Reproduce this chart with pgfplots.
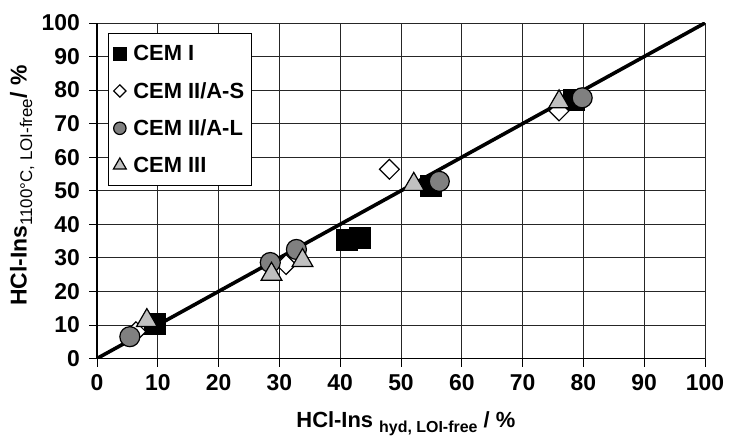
\documentclass[border=0pt]{standalone}
\usepackage{fontspec}
\setmainfont{Liberation Sans}
\usepackage{pgfplots}
\pgfplotsset{compat=1.18}
\definecolor{cgray}{HTML}{808080}
\definecolor{lgray}{HTML}{C0C0C0}
\begin{document}
\begin{tikzpicture}
\begin{axis}[
  name=a,
  scale only axis, width=608bp, height=335.5bp,
  xmin=0, xmax=100, ymin=0, ymax=100,
  xtick distance=10, ytick distance=10,
  axis lines=left, axis line style={-, line width=1.8bp},
  tick align=outside, major tick length=8bp, tick style={black, line width=0.8bp},
  grid=major, grid style={black!85, line width=0.8bp},
  /pgf/number format/assume math mode=true,
  ticklabel style={font=\fontsize{23}{25}\selectfont\bfseries},
  yticklabel style={xshift=-5.5bp},
  xticklabel style={yshift=-4bp},
  xlabel={\fontsize{22}{24}\selectfont\bfseries HCl-Ins \raisebox{-0.45ex}{\fontsize{16}{18}\selectfont hyd, LOI-free} / \%},
  xlabel style={at={(axis description cs:0.508,-0.195)}, anchor=center},
  ylabel={\fontsize{23}{25}\selectfont\bfseries HCl-Ins\raisebox{-0.45ex}{\fontsize{17}{19}\selectfont\mdseries 1100°C, LOI-free}/ \%},
  ylabel style={at={(axis description cs:-0.123,0.515)}, anchor=center},
  legend style={at={(0.018,0.970)}, anchor=north west, draw=black, line width=0.8bp,
    font=\fontsize{22}{24}\selectfont\bfseries, cells={anchor=west},
    row sep=16bp, inner xsep=5bp, inner ysep=10bp,
    /tikz/every odd column/.append style={column sep=5bp}},
  legend image code/.code={\draw[#1, every mark/.append style={scale=0.62}] plot coordinates {(0bp,0bp)};},
]
\addplot[black, line width=3.6bp, forget plot] coordinates {(0,0) (100,100)};
\addplot[only marks, mark=square*, mark size=10.5bp, draw=black, fill=black, mark options={line width=1bp}]
  coordinates {(9.6,10.3) (41.1,35.3) (43.2,36.0) (55.0,51.3) (78.4,77.1)};
\addlegendentry{CEM I}
\addplot[only marks, mark=square*, mark size=7bp, mark options={rotate=45, draw=black, fill=white, line width=1.2bp}]
  coordinates {(6.4,8.0) (31.1,28.0) (48.1,56.4) (76.0,73.8)};
\addlegendentry{CEM II/A-S}
\addplot[only marks, mark=*, mark size=10bp, mark options={draw=black, fill=cgray, line width=1.2bp}]
  coordinates {(5.4,6.5) (28.5,28.6) (32.8,32.5) (56.3,52.8) (79.8,77.7)};
\addlegendentry{CEM II/A-L}
\addplot[only marks, mark=triangle*, mark size=12bp, mark options={draw=black, fill=lgray, line width=1.2bp}]
  coordinates {(8.2,11.3) (28.7,25.1) (33.8,29.2) (52.1,51.9) (76.0,76.5)};
\addlegendentry{CEM III}
\end{axis}
\pgfresetboundingbox
\path ([xshift=-97bp,yshift=-81.5bp]a.south west) rectangle ([xshift=27bp,yshift=23bp]a.north east);
\end{tikzpicture}
\end{document}
